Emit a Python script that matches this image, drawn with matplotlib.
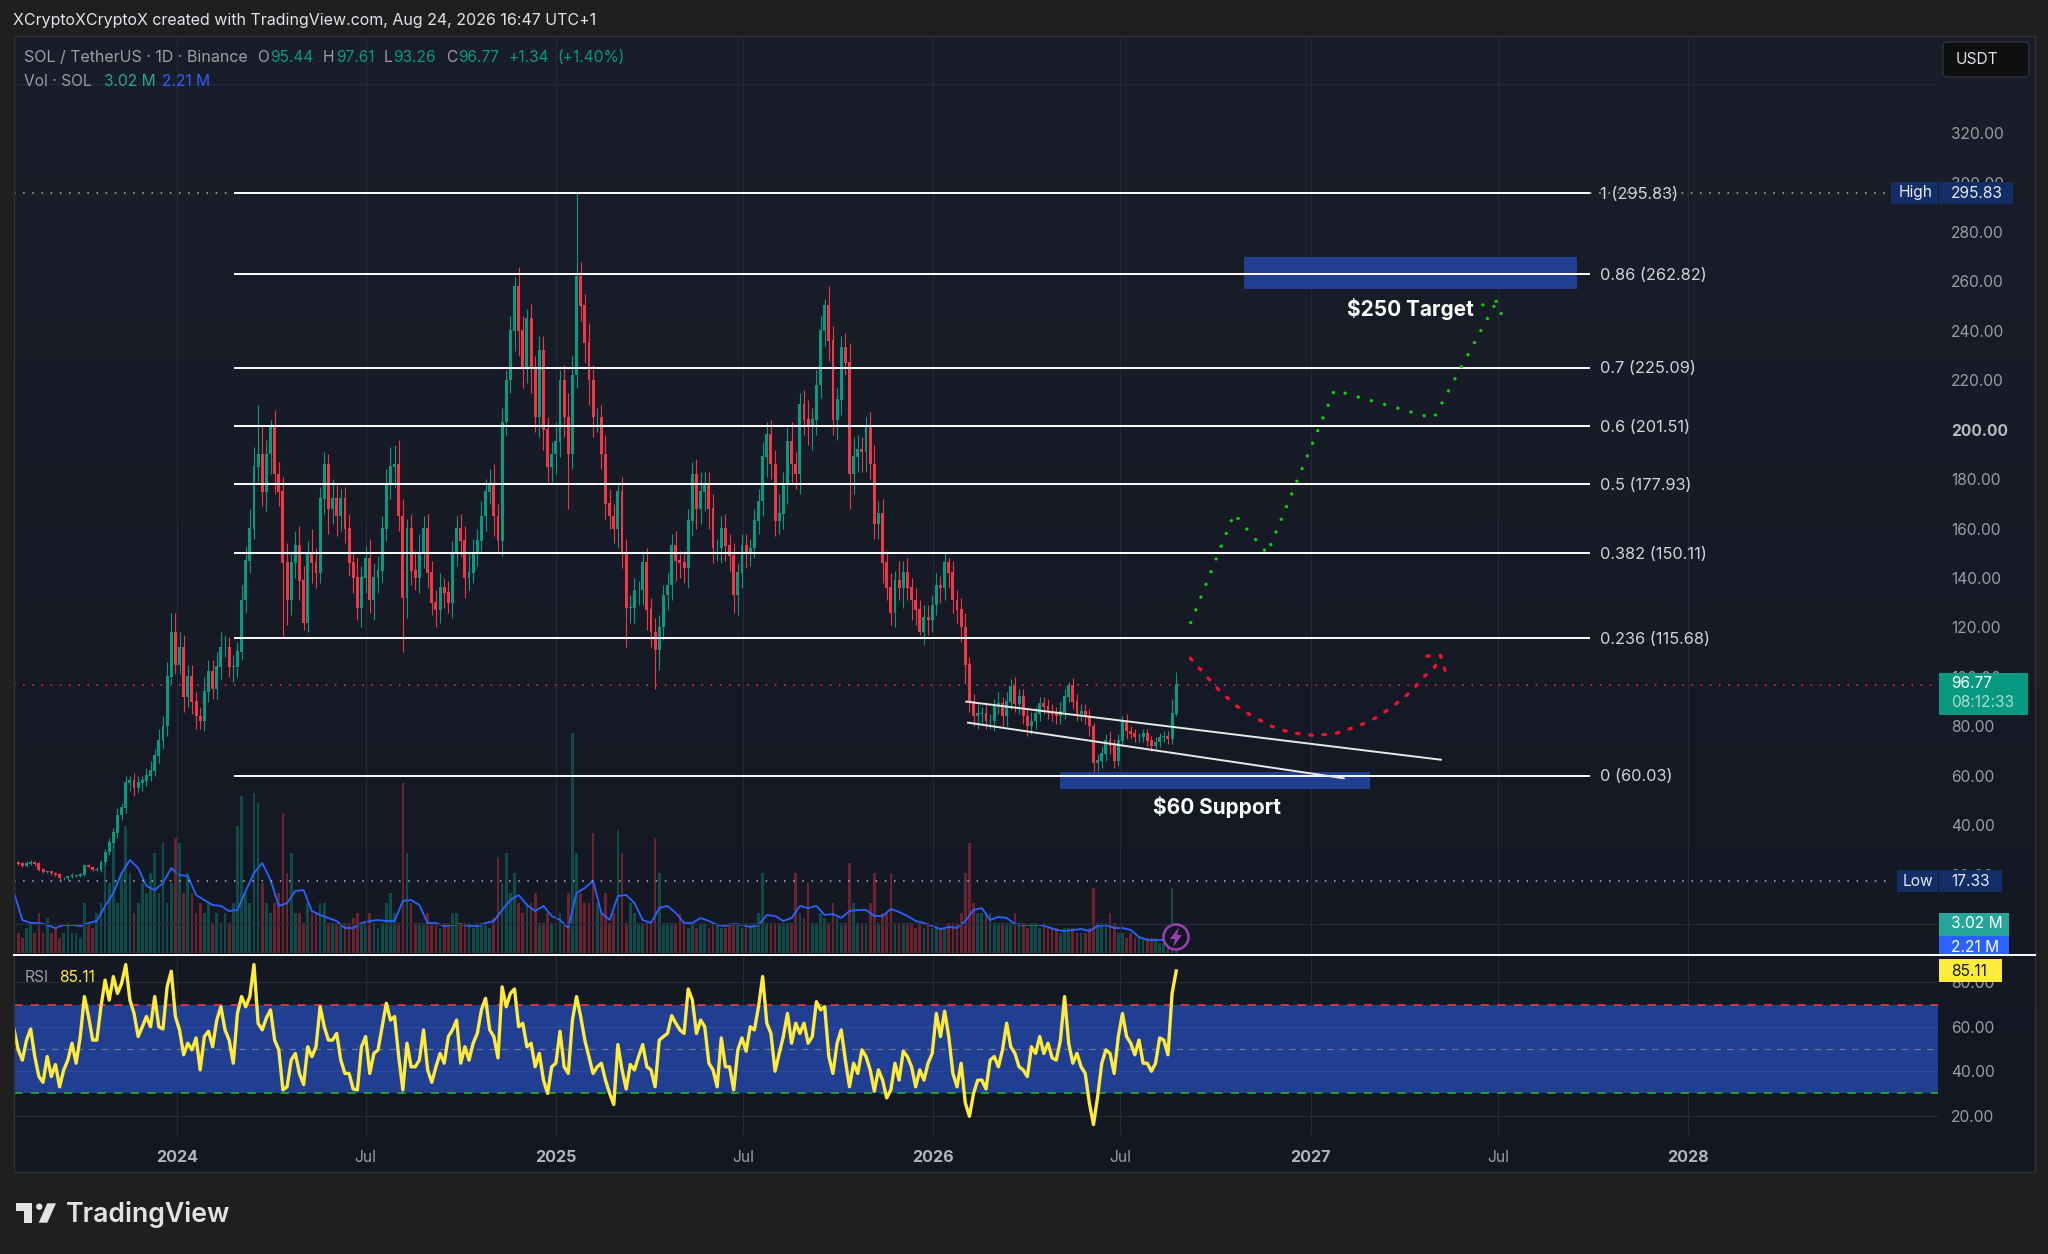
import numpy as np
import matplotlib
matplotlib.use('Agg')
import matplotlib.pyplot as plt
from matplotlib.colors import LinearSegmentedColormap
from matplotlib.lines import Line2D
from matplotlib.patches import Rectangle, Circle, Polygon, FancyBboxPatch

plt.rcParams['font.family'] = ['Inter', 'DejaVu Sans']

W, H = 2048, 1254

# price axis, candles every 4 days, day 0 is 2024-01-01
first_day = -158
step_days = 4

close = [
    25, 24.5, 23.5, 24.5, 25, 24.5, 22, 21, 21, 20.5,
    20, 18.5, 18.5, 19, 19.5, 19.5, 20, 23.5, 23, 22,
    22, 25, 29, 33, 37, 44, 47, 57, 58, 55,
    57, 58, 60, 62, 68, 74, 80, 100, 118, 105,
    112, 92, 100, 90, 84, 82, 94, 102, 95, 104,
    112, 112, 104, 104, 110, 131, 147, 160, 185, 190,
    175, 190, 201, 182, 175, 146, 131, 146, 153, 139,
    122, 150, 146, 142, 172, 186, 168, 172, 165, 172,
    160, 146, 140, 128, 140, 148, 131, 140, 143, 160,
    178, 185, 186, 165, 132, 160, 143, 140, 150, 160,
    142, 130, 127, 136, 134, 130, 150, 160, 155, 140,
    142, 150, 155, 165, 175, 178, 165, 155, 203, 220,
    240, 258, 240, 225, 245, 225, 205, 232, 200, 185,
    190, 195, 220, 205, 190, 222, 262, 250, 235, 220,
    205, 205, 190, 170, 165, 160, 175, 150, 128, 128,
    135, 135, 146, 127, 118, 111, 120, 133, 137, 153,
    147, 146, 144, 163, 182, 168, 175, 178, 168, 152,
    152, 160, 153, 149, 133, 142, 153, 150, 152, 163,
    171, 189, 198, 186, 163, 166, 178, 195, 186, 182,
    210, 204, 202, 204, 218, 240, 250, 236, 204, 212,
    233, 227, 182, 189, 192, 191, 201, 186, 162, 166,
    146, 136, 126, 139, 136, 142, 136, 131, 127, 118,
    124, 123, 129, 137, 136, 146, 142, 131, 127, 120,
    105, 90, 84, 85, 85, 82, 82, 88, 89, 84,
    90, 96, 89, 92, 84, 80, 82, 85, 89, 88,
    86, 85, 84, 86, 92, 96.5, 90, 85, 86, 84,
    80, 65, 66, 69, 74, 72, 66, 74, 82, 78,
    77, 75.5, 75.5, 77, 74, 72, 73.5, 75.5, 76, 75,
    85, 96.77,
]

wick_up = [
    1, .5, .5, 1, 1, .5, .5, .5, .5, .5,
    .5, .5, .5, .5, 1, .5, .5, 1, 1, .5,
    1, 1, 1.5, 2, 2, 3, 2, 3, 2, 3,
    3, 2, 3, 4, 3, 5, 4, 6, 8, 8,
    6, 5, 5, 5, 4, 4, 6, 5, 5, 6,
    6, 5, 4, 5, 4, 6, 6, 8, 8, 20,
    12, 6, 3, 7, 5, 6, 8, 5, 6, 8,
    6, 5, 10, 6, 5, 5, 4, 8, 6, 4,
    5, 6, 4, 8, 5, 5, 8, 6, 6, 5,
    6, 8, 8, 10, 7, 4, 6, 8, 8, 5,
    6, 5, 5, 6, 4, 5, 5, 5, 6, 6,
    8, 6, 5, 6, 5, 6, 8, 5, 6, 4,
    6, 4, 8, 6, 4, 6, 5, 6, 6, 5,
    5, 8, 4, 6, 10, 8, 33.83, 6, 5, 8,
    6, 4, 5, 8, 6, 5, 4, 6, 6, 5,
    5, 4, 5, 6, 5, 6, 5, 4, 5, 5,
    6, 4, 5, 5, 5, 6, 8, 5, 5, 6,
    4, 5, 6, 5, 5, 4, 5, 5, 4, 5,
    5, 6, 5, 6, 6, 8, 5, 6, 8, 5,
    5, 6, 8, 5, 6, 6, 3, 8, 6, 5,
    5, 6, 8, 8, 6, 5, 4, 6, 8, 5,
    6, 5, 6, 4, 8, 5, 6, 4, 5, 4,
    5, 5, 4, 5, 4, 4, 2, 5, 4, 5,
    6, 3, 3, 4, 3, 5, 3, 3, 5, 3,
    4, 3, 4, 3, 3, 3, 4, 3, 3, 3,
    3, 3, 3, 4, 3, 1.5, 3, 3, 3, 3,
    3, 1.5, 3, 3, 3, 4, 3, 3, 2, 3,
    2, 2, 2, 2, 2, 2, 2, 2, 2, 2,
    6, 5.3,
]

wick_dn = [
    .5, .5, .5, .5, .5, 1, .5, .5, .5, .5,
    .5, 1.17, .5, .5, .5, .5, .5, .5, .5, .5,
    .5, 1, 1, 1, 2, 2, 2, 2, 3, 3,
    2, 3, 2, 2, 2, 3, 3, 4, 3, 4,
    4, 6, 4, 5, 5, 3, 4, 4, 4, 4,
    5, 4, 4, 6, 4, 3, 5, 5, 4, 6,
    6, 8, 8, 8, 6, 30, 10, 6, 6, 8,
    3, 4, 8, 6, 4, 6, 10, 6, 8, 6,
    6, 5, 6, 5, 8, 6, 5, 8, 6, 5,
    5, 6, 8, 6, 22, 8, 6, 5, 6, 6,
    6, 5, 7, 5, 6, 4, 6, 5, 6, 8,
    5, 4, 5, 4, 6, 5, 8, 4, 6, 5,
    5, 8, 10, 8, 6, 10, 6, 8, 8, 6,
    6, 8, 6, 8, 22, 6, 5, 6, 8, 10,
    8, 6, 6, 6, 5, 6, 8, 6, 16, 6,
    6, 6, 6, 8, 6, 16, 8, 5, 6, 6,
    8, 6, 6, 8, 6, 8, 6, 8, 8, 6,
    5, 6, 6, 6, 7, 8, 6, 6, 5, 4,
    5, 6, 8, 6, 6, 5, 6, 8, 8, 6,
    8, 6, 8, 10, 6, 5, 6, 8, 6, 8,
    6, 5, 14, 8, 6, 8, 8, 6, 6, 6,
    8, 5, 5, 6, 5, 8, 5, 8, 6, 1,
    5, 6, 5, 4, 6, 5, 6, 5, 5, 6,
    8, 4, 4, 5, 4, 3, 3, 4, 3, 4,
    4, 3, 3, 4, 3, 4, 3, 3, 3, 3,
    3, 3, 3, 3, 3, 2, 3, 3, 3, 3,
    4, 4.4, 3, 3, 3, 3, 3, 2, 2, 3,
    2, 2, 2, 2, 2, 2, 2, 2, 2, 2,
    2, 1,
]

volume = [
    3, 2, 1.5, 2.5, 3, 2, 4, 2, 3.5, 2,
    2.5, 1.5, 2, 3, 2, 2, 1.5, 5, 3, 2.5,
    4, 5, 9, 7, 10.7, 5, 8, 12.7, 8, 4,
    5, 7, 6, 8, 10, 6, 11, 5, 7, 11.5,
    11, 6, 8, 6, 4, 5, 4, 5, 3, 4,
    3, 4, 3, 5, 12.7, 15.7, 6, 5, 16, 15,
    7, 5, 4, 5, 6, 14, 8, 10, 4, 4,
    3, 5, 4, 4, 5, 5, 3, 3, 3, 3,
    3, 3, 3.5, 4, 3, 3, 4, 3, 2.5, 3,
    5, 6, 4, 3, 17, 10, 5, 3, 3, 3,
    4, 3, 3, 2.5, 3, 3, 4, 4, 3, 3,
    3, 2.5, 3, 3, 3, 2.5, 3.5, 9.5, 7, 10,
    6, 8, 5, 4, 5, 5, 6, 3, 3, 4,
    3, 3, 4, 3, 6, 22, 10, 6, 5, 5,
    12, 5, 4, 6, 3, 4, 12.3, 10, 3, 5,
    4, 3, 3, 3, 3, 11.5, 8, 3, 3, 3,
    3, 4, 3, 2.5, 3, 2.5, 3, 3, 2.5, 3,
    3, 2.5, 2.5, 3, 3, 3, 2.5, 3, 3, 3,
    4, 8, 3, 3, 3, 3, 3, 3, 3, 8,
    4, 3.5, 7, 3, 3, 4, 3.5, 3, 5, 3.5,
    3, 3, 9, 5, 3, 3, 3, 5, 8, 3,
    4, 4, 8, 3, 3, 3, 3, 3, 2.5, 3,
    2.5, 3, 2.5, 2.5, 2.5, 2.5, 3, 3, 3, 4,
    8, 11, 5, 4, 4, 4, 4, 3, 3, 3,
    3, 3, 4, 3, 3, 2.5, 3, 3, 2.5, 3,
    2.5, 2.5, 2.5, 2, 2.5, 2.5, 2.5, 2, 2, 2,
    2.5, 6.5, 3, 3, 3, 4, 3, 2, 2, 1.5,
    2, 1.5, 1.5, 1.5, 1.5, 1.5, 1.5, 1, 1, 1,
    6.5, 3.02,
]

# volume average, one value per two candles
vol_ma = [
    6, 3.3, 3, 3, 2.8, 2.5, 2.8, 2.8, 2.7, 3,
    3.2, 4.7, 6, 8, 9.3, 8.5, 6.7, 6.3, 7, 8.5,
    7.8, 7.7, 5.8, 5.3, 4.8, 4.7, 4.2, 4.3, 6.2, 8,
    9, 7.3, 4.7, 5, 6.2, 6.3, 4.2, 3.8, 3.5, 3.2,
    2.5, 2.5, 3, 3.2, 3.3, 3.2, 3.2, 5.2, 5.3, 4.8,
    3, 3, 2.7, 2.8, 2.9, 2.7, 2.7, 3, 3.2, 4.3,
    5.3, 5.8, 4.8, 4.2, 4.7, 3.7, 3.3, 2.5, 6, 6.5,
    7.2, 4, 3.3, 5.7, 5.8, 5, 3.3, 3, 4.5, 4.7,
    4, 3, 3, 3.5, 3.2, 2.8, 2.7, 2.9, 2.8, 2.6,
    2.8, 3.8, 3.7, 3.2, 3.5, 4.7, 4.5, 4.7, 3.8, 3.9,
    3.5, 4.2, 4.3, 4.3, 3.7, 3.7, 4.4, 4.1, 3.7, 3.2,
    3, 2.7, 2.4, 2.6, 2.5, 3.2, 4.3, 4.5, 3.3, 3.6,
    3.5, 2.9, 2.8, 2.8, 2.8, 2.6, 2.3, 2.2, 2.3, 2.4,
    2.2, 2.7, 2.8, 2.5, 2.5, 2.3, 1.6, 1.3, 1.3, 1.3,
]

rsi = [
    58.6, 49.6, 45, 54, 59, 46.6, 37.6, 35, 46.6, 37.6,
    43, 33, 40.6, 45, 52.6, 43.6, 55.6, 73.6, 64.6, 54,
    54, 69, 81, 72, 82.6, 75, 79.6, 88, 72, 66,
    55.6, 60, 64.6, 60, 73.6, 60, 59, 78, 85, 64.6,
    58.6, 47.4, 52.6, 49.6, 55, 40.6, 55.6, 58, 51, 63,
    69, 58.6, 54, 43.6, 66, 73.6, 69, 73.6, 88, 61.6,
    58.6, 64, 67.6, 54, 49.6, 31.6, 33, 45, 48, 39,
    34, 51, 46.6, 51, 69, 60, 54, 54, 57, 45,
    39, 39, 32, 31.6, 51, 55.6, 39, 48, 49.6, 60,
    70.6, 63, 64.6, 46.6, 31.6, 52.6, 42, 42, 45, 58.6,
    40.6, 35, 42, 48, 43.6, 55.6, 58.6, 63, 43.6, 51,
    45, 52.6, 57, 67.6, 72.8, 58.6, 55.6, 46, 78, 69,
    75, 77, 60, 61.6, 51, 52.6, 42, 48, 36, 30,
    42, 43.6, 58, 42, 39, 63, 73.6, 64.6, 54, 46.6,
    39, 42, 43.6, 36, 30, 25, 52, 40.6, 32, 43,
    40.6, 46.6, 52, 42, 40.6, 33, 54, 55.6, 57, 65,
    61.6, 58.6, 57, 77, 72, 57, 63, 60, 43.6, 40.6,
    33, 55, 42, 42, 31.6, 49.6, 55, 49, 60, 58.6,
    69, 82.6, 61.6, 57, 40, 48, 55.6, 66, 52.6, 61.6,
    57, 61.6, 52.6, 55.6, 71.3, 67.6, 69, 46.6, 39, 52.6,
    58.6, 45, 33, 43.6, 39, 49.6, 46.6, 40.6, 31, 40.6,
    36, 28, 31.6, 43.6, 36, 49, 46.6, 42, 33, 40.6,
    36, 43.6, 48, 66, 55.6, 67, 55.6, 39, 33, 43.6,
    25.7, 19.7, 30, 36, 36, 32, 45, 46.6, 42, 49.6,
    61.6, 51, 48, 42, 40.6, 37.6, 51, 48, 55.6, 48,
    52.6, 46, 45, 54, 73.6, 52.6, 43.6, 48, 42, 39,
    25.7, 16, 28.6, 43.6, 49.6, 48, 39, 55.6, 66, 55.6,
    52.6, 47.4, 54, 43.6, 43.6, 40, 43.6, 55, 54, 47.4,
    75, 85.11,
]

fib_ratios = ['1', '0.86', '0.7', '0.6', '0.5', '0.382', '0.236', '0']
fib_prices = [295.83, 262.82, 225.09, 201.51, 177.93, 150.11, 115.68, 60.03]
fib_start, fib_end = 55, 1366

channel_top_days = [763, 1222]
channel_top_prices = [90, 66.5]
channel_low_days = [764.6, 1128]
channel_low_prices = [81.5, 59]

green_days = [980, 1022, 1054, 1119, 1215, 1276]
green_prices = [122, 166, 150, 216, 204.6, 252]
green_head_days = [1262.6, 1276, 1281.4]
green_head_prices = [250.5, 252, 245.5]

red_days = [979.7, 994.5, 1008.3, 1023.8, 1041.2, 1058.4, 1077.4, 1099.8, 1120.5, 1141.3,
            1160.4, 1177.7, 1193.3, 1207, 1216, 1221.6]
red_prices = [107.6, 100.6, 94.2, 88.4, 83.7, 80, 77.4, 76.3, 77.2, 80,
              83.7, 88.8, 94.2, 100.6, 104, 108.7]
red_head_days = [1208.6, 1221.6, 1227]
red_head_prices = [108.4, 108.7, 101.4]

price_ticks = np.arange(0, 341, 20)
rsi_ticks = [20, 40, 60, 80]
time_ticks = [0, 182, 366, 547, 731, 912, 1096, 1277, 1461]
time_labels = ['2024', 'Jul', '2025', 'Jul', '2026', 'Jul', '2027', 'Jul', '2028']

GREEN = '#089981'
RED = '#f23645'
TEXT = '#d1d4dc'
GRAY = '#9a9da6'
GRID = '#252935'
BAND = '#203e92'


def add_ax(left, top, right, bottom):
    a = fig.add_axes([left / W, 1 - bottom / H, (right - left) / W, (bottom - top) / H])
    a.patch.set_alpha(0)
    for s in a.spines.values():
        s.set_visible(False)
    return a


def label(x, y, s, color=TEXT, size=11.2, ha='left', **kw):
    return fig.text(x / W, 1 - y / H, s, color=color, fontsize=size, ha=ha, va='center', **kw)


def box(x0, y0, x1, y1, color, rounded=False, edge='none'):
    if rounded:
        p = FancyBboxPatch((x0 / W, 1 - y1 / H), (x1 - x0) / W, (y1 - y0) / H,
                           boxstyle='round,pad=0,rounding_size=0.002', mutation_aspect=W / H,
                           transform=fig.transFigure, fc=color, ec=edge)
    else:
        p = Rectangle((x0 / W, 1 - y1 / H), (x1 - x0) / W, (y1 - y0) / H,
                      transform=fig.transFigure, fc=color, ec=edge)
    fig.add_artist(p)
    return p


fig = plt.figure(figsize=(W / 100, H / 100), dpi=100, facecolor='#1f1f1f')

# panel gradient
ax_bg = add_ax(14, 36, 2035, 1172)
ax_bg.axis('off')
ax_bg.imshow(np.linspace(0, 1, 256).reshape(-1, 1), aspect='auto',
             cmap=LinearSegmentedColormap.from_list('panel', ['#1a1e2a', '#131722']))

days = first_day + step_days * np.arange(len(close))
close = np.array(close)
opens = np.r_[close[0], close[:-1]]
highs = np.maximum(opens, close) + np.array(wick_up)
lows = np.minimum(opens, close) - np.array(wick_dn)
colors = [GREEN if c >= o else RED for o, c in zip(opens, close)]

xlim = (-158.1, 1702.8)

# volume, 10 px per unit, baseline just above the separator
ax_vol = add_ax(14, 36, 1938, 955)
ax_vol.set_xlim(xlim)
ax_vol.set_ylim(-0.2, 91.7)
ax_vol.set_xticks([])
ax_vol.set_yticks([])
ax_vol.bar(days, volume, width=2.6, color=colors, alpha=0.4, linewidth=0, zorder=2)
ax_vol.plot(days[::2][:len(vol_ma)], vol_ma, color='#2962ff', lw=1.3, zorder=3)

# price panel
ax = add_ax(14, 36, 1938, 955)
ax.set_xlim(xlim)
ax.set_ylim(-12.5, 359.3)
ax.yaxis.tick_right()
ax.set_yticks(price_ticks[1:-1])
ax.set_yticklabels([f'{p:.2f}' for p in price_ticks[1:-1]])
ax.tick_params(axis='y', length=0, pad=9.5, labelsize=11.2, labelcolor=GRAY)
ax.set_xticks(time_ticks)
ax.tick_params(axis='x', length=0, labelbottom=False)
ax.set_yticks(price_ticks, minor=True)
ax.tick_params(axis='y', which='minor', length=0)
ax.grid(True, which='minor', axis='y', color=GRID, lw=0.9, zorder=0)
ax.grid(True, which='major', axis='x', color=GRID, lw=0.9, zorder=0)
ax.set_axisbelow(True)
for t in ax.get_yticklabels():
    if t.get_text() == '200.00':
        t.set_fontweight('bold')
        t.set_color('#b8bbc3')

ax.vlines(days, lows, highs, colors=colors, lw=0.8, zorder=2)
ax.bar(days, np.abs(close - opens) + 0.3, bottom=np.minimum(opens, close), width=2.8,
       color=colors, linewidth=0, zorder=3)

ax.axhline(close[-1], color=RED, lw=1.1, ls=(0, (1, 5)), zorder=4)
ax.plot([xlim[0], fib_start], [295.83, 295.83], color='#b0b3ba', lw=1.1, ls=(0, (1, 5)), zorder=4)
ax.plot([fib_end, 1652], [295.83, 295.83], color='#b0b3ba', lw=1.1, ls=(0, (1, 5)), zorder=4)
ax.plot([xlim[0], 1657], [17.33, 17.33], color='#b0b3ba', lw=1.1, ls=(0, (1, 5)), zorder=4)

ax.bar([1032], [13], bottom=[256.8], width=321.6, align='edge', color=BAND, linewidth=0, zorder=5)
ax.bar([853.6], [6.9], bottom=[54.8], width=299.8, align='edge', color=BAND, linewidth=0, zorder=5)

ax.hlines(fib_prices, fib_start, fib_end, colors='white', lw=1.4, zorder=6)
for r, p in zip(fib_ratios, fib_prices):
    ax.text(1376, p - 0.5, f'{r} ({p:.2f})', color=TEXT, fontsize=11.8, va='center', zorder=7)

ax.plot(channel_top_days, channel_top_prices, color='#e8e8e8', lw=1.4, zorder=6)
ax.plot(channel_low_days, channel_low_prices, color='#e8e8e8', lw=1.4, zorder=6)

dots = dict(color='#0bd60b', lw=2.4, ls=(0, (0.01, 4.1)), dash_capstyle='round', zorder=6)
ax.plot(green_days, green_prices, **dots)
ax.plot(green_head_days, green_head_prices, **dots)
dashes = dict(color='#f0102d', lw=2.4, ls=(0, (0.7, 3.3)), dash_capstyle='round', zorder=6)
ax.plot(red_days, red_prices, **dashes)
ax.plot(red_head_days, red_head_prices, **dashes)

ax.text(1192, 249, '$250 Target', color='white', fontsize=15, fontweight='bold',
        ha='center', va='center', zorder=7)
ax.text(1005, 47.2, '$60 Support', color='white', fontsize=15, fontweight='bold',
        ha='center', va='center', zorder=7)

# RSI panel
ax_rsi = add_ax(14, 957, 1938, 1135)
ax_rsi.set_xlim(xlim)
ax_rsi.set_ylim(11.3, 91.4)
ax_rsi.set_xticks(time_ticks)
ax_rsi.tick_params(axis='x', length=0, labelbottom=False)
ax_rsi.yaxis.tick_right()
ax_rsi.set_yticks(rsi_ticks)
ax_rsi.set_yticklabels([f'{v:.2f}' for v in rsi_ticks])
ax_rsi.tick_params(axis='y', length=0, pad=9.5, labelsize=11.2, labelcolor=GRAY)
ax_rsi.grid(True, color=GRID, lw=0.9, zorder=0)
ax_rsi.set_axisbelow(True)
ax_rsi.axhspan(30, 70, color=BAND, lw=0, zorder=1)
for v in rsi_ticks[1:3]:
    ax_rsi.axhline(v, color='#2f4a9c', lw=0.8, zorder=1.5)
ax_rsi.axhline(70, color=RED, lw=1.2, ls=(0, (5, 5)), zorder=2)
ax_rsi.axhline(50, color='#6c7899', lw=0.9, ls=(0, (5, 5)), zorder=2)
ax_rsi.axhline(30, color='#22b322', lw=1.2, ls=(0, (5, 5)), zorder=2)
ax_rsi.plot(days, rsi, color='#ffeb3b', lw=2.4, zorder=3)

# time axis labels
for d, s in zip(time_ticks, time_labels):
    x = 177.5 + 1.0339 * d
    if s == 'Jul':
        label(x, 1157, s, color=GRAY, size=11.2, ha='center')
    else:
        label(x, 1157, s, color='#b2b5be', size=11.6, ha='center', fontweight='bold')

# frame
fig.add_artist(Rectangle((14 / W, 1 - 1172 / H), (2035 - 14) / W, (1172 - 36) / H,
                         transform=fig.transFigure, fc='none', ec='#2f323c', lw=1))

# header
label(13, 21, 'XCryptoXCryptoX created with TradingView.com, Aug 24, 2026 16:47 UTC+1', color='#e0e3ea', size=11.5)
label(24.5, 57, 'SOL / TetherUS · 1D · Binance', color=GRAY, size=11.5)
for x, s, c in [(257.6, 'O', GRAY), (270, '95.44', GREEN), (323, 'H', GRAY), (336, '97.61', GREEN),
                (384, 'L', GRAY), (393, '93.26', GREEN), (446, 'C', GRAY), (458.5, '96.77', GREEN),
                (509, '+1.34', GREEN), (557, '(+1.40%)', GREEN)]:
    label(x, 57, s, color=c, size=11.2)
label(24.5, 81, 'Vol · SOL', color=GRAY, size=11.2)
label(103.6, 81, '3.02 M', color='#26a69a', size=11.2)
label(162, 81, '2.21 M', color='#2962ff', size=11.2)
label(24.5, 977, 'RSI', color=GRAY, size=11.2)
label(59.3, 977, '85.11', color='#ffeb3b', size=11.2)

# USDT button
box(1943, 42, 2029, 77, '#0f0f0f', rounded=True, edge='#2f323c')
label(1956, 59, 'USDT', color='#e0e3ea', size=11.2)

# axis value boxes
box(1891, 182, 1938, 204, '#132e66')
box(1939, 182, 2013, 204, '#132e66')
label(1899, 193, 'High', color='#e6e9f0', size=11.2)
label(1951, 193, '295.83', color='#e6e9f0', size=11.2)
box(1897, 870, 1938, 892, '#132e66')
box(1939, 870, 2002, 892, '#132e66')
label(1903, 881, 'Low', color='#e6e9f0', size=11.2)
label(1951, 881, '17.33', color='#e6e9f0', size=11.2)
box(1939, 673, 2028, 715, GREEN)
label(1951, 684, '96.77', color='white', size=11.2)
label(1951, 703, '08:12:33', color='#a8dcd0', size=11.2)
box(1939, 913, 2009, 936, '#26a69a')
box(1939, 936, 2009, 955, '#2962ff')
label(1951, 924, '3.02 M', color='white', size=11.2)
label(1951, 947, '2.21 M', color='white', size=11.2)
box(1939, 959, 2002, 982, '#ffeb3b')
label(1951, 971, '85.11', color='#131722', size=11.2)

fig.add_artist(Line2D([14 / W, 2035 / W], [1 - 955 / H, 1 - 955 / H], color='white', lw=1.4,
                      transform=fig.transFigure, zorder=2.5))

# alert icon on the last bar
fig.add_artist(Circle((1176, H - 937), 12.5, transform=None, fc='#131722', ec='#9c3fb5', lw=1.8))
bolt = np.array([[1179, 927], [1170, 939], [1175, 939], [1173, 947], [1182, 935], [1177, 935]], float)
fig.add_artist(Polygon(np.c_[bolt[:, 0], H - bolt[:, 1]], closed=True, transform=None, fc='#9c3fb5', ec='none'))

# TradingView logo
logo = '#e3e3e3'
t_shape = np.array([[16, 1203.3], [32.3, 1203.3], [32.3, 1222.7], [24, 1222.7], [24, 1210.7], [16, 1210.7]])
slash = np.array([[56, 1203.3], [47.3, 1222.7], [38.7, 1222.7], [47.3, 1203.3]])
for shape in (t_shape, slash):
    fig.add_artist(Polygon(np.c_[shape[:, 0], H - shape[:, 1]], closed=True, transform=None, fc=logo, ec='none'))
fig.add_artist(Circle((39.3, H - 1206.7), 3.2, transform=None, fc=logo, ec='none'))
label(65.7, 1214, 'TradingView', color=logo, size=19.2, fontweight='semibold')

fig.savefig('out.png', dpi=100, facecolor=fig.get_facecolor())
